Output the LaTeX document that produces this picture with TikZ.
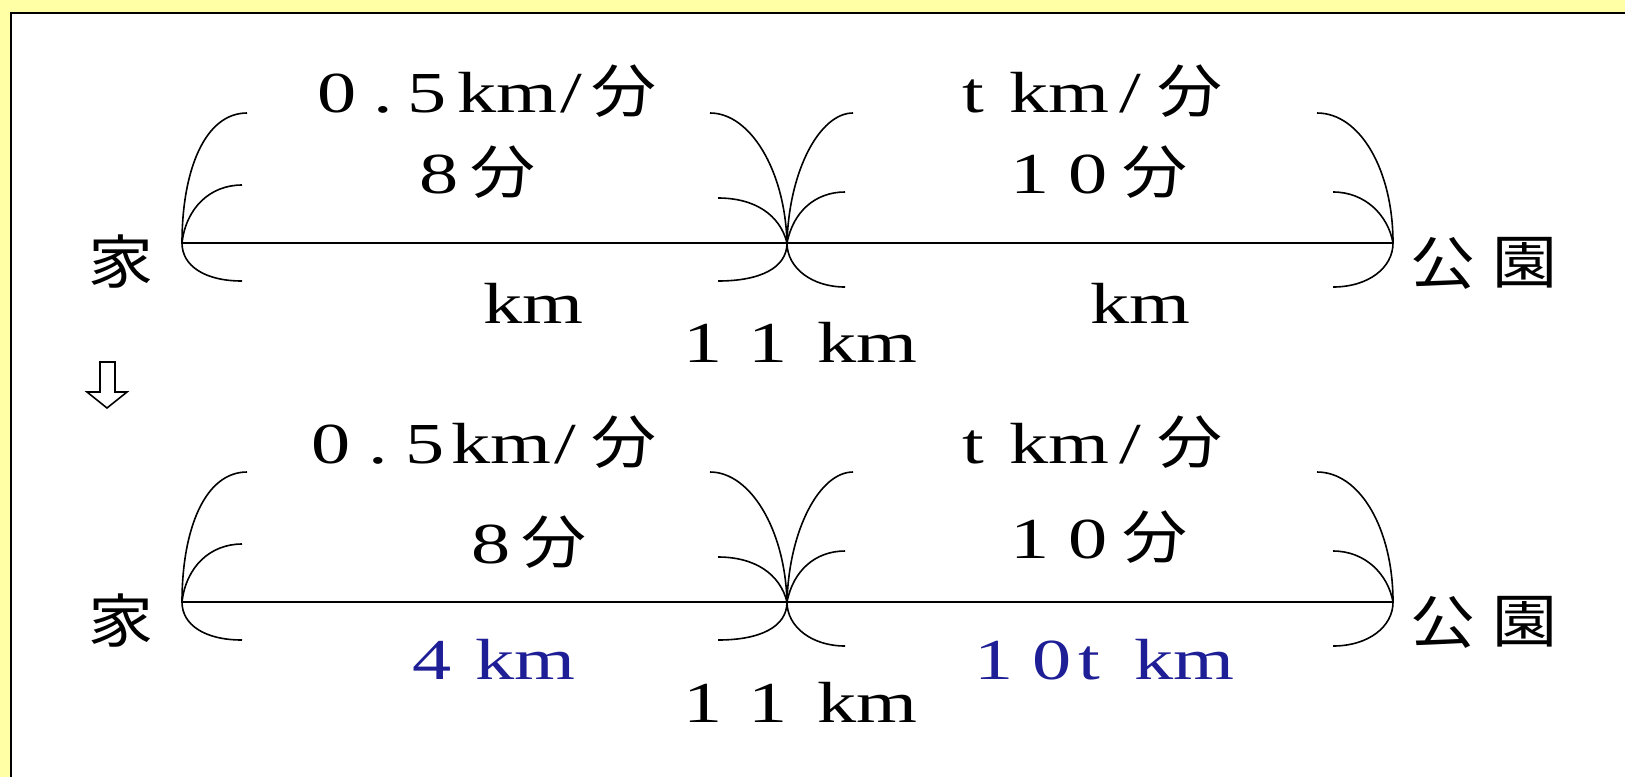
\documentclass[tikz,border=0pt]{standalone}
\usepackage{fontspec}
\usepackage{graphicx}
\setmainfont{Liberation Serif}
\newfontfamily\jpfont{Noto Sans CJK JP}
\newdimen\px \px=0.5pt
\newcommand\Lt[1]{\scalebox{1.35}[1]{#1}}
\newcommand\Kj[1]{\scalebox{1.12}[1]{\jpfont #1}}
\newcommand\at[2]{\rlap{\hspace*{#1\px}\makebox[0pt][c]{#2}}}
\newcommand\lblbox[2]{\makebox[#1\px][l]{#2}}
\definecolor{bgyellow}{RGB}{255,255,165}
\definecolor{ansblue}{RGB}{30,30,150}
\begin{document}
\begin{tikzpicture}[x=0.5pt,y=-0.5pt,
  lbl/.style={inner sep=0pt, anchor=base west, font=\fontsize{29}{34}\selectfont},
  kj/.style={inner sep=0pt, anchor=center, font=\fontsize{29}{34}\selectfont},
  arcline/.style={line width=0.8pt},
  mainline/.style={line width=1.1pt}]
\useasboundingbox (0,0) rectangle (1625,777);
% frame
\fill[bgyellow] (0,0) rectangle (1625,777);
\fill[white] (11,13) rectangle (1625,777);
\draw[line width=1.2pt] (11,777) -- (11,13) -- (1625,13);

% brackets and lines for both diagrams
\foreach \s/\n in {0/a,-179.5/b}{
\begin{scope}[yshift=\s pt]
  \coordinate (L\n) at (182,243);
  \coordinate (M\n) at (787,243);
  \coordinate (R\n) at (1393,243);
  \draw[mainline] (L\n) -- (R\n);
  \draw[arcline] (L\n) .. controls (182,170) and (205,113) .. (247,113);
  \draw[arcline] (L\n) .. controls (186,208) and (210,185) .. (242,185);
  \draw[arcline] (L\n) .. controls (182,266) and (205,281) .. (242,281);
  \draw[arcline] (M\n) .. controls (785,170) and (750,113) .. (710,113);
  \draw[arcline] (M\n) .. controls (789,170) and (820,113) .. (853,113);
  \draw[arcline] (M\n) .. controls (780,215) and (755,198) .. (718,198);
  \draw[arcline] (M\n) .. controls (793,212) and (815,192) .. (845,192);
  \draw[arcline] (M\n) .. controls (787,268) and (760,281) .. (718,281);
  \draw[arcline] (M\n) .. controls (787,268) and (812,287) .. (845,287);
  \draw[arcline] (R\n) .. controls (1393,170) and (1360,113) .. (1317,113);
  \draw[arcline] (R\n) .. controls (1388,215) and (1365,192) .. (1333,192);
  \draw[arcline] (R\n) .. controls (1393,268) and (1368,287) .. (1333,287);
\end{scope}
}

% down arrow
\draw[line width=0.8pt] (100,362) -- (115,362) -- (115,392) -- (127,392) -- (107,408) -- (87,392) -- (100,392) -- cycle;

% ---------- top diagram labels ----------
\node[kj] (ie1) at (121,262) {\Kj{家}};
\node[kj] (ko1) at (1443,263) {\Kj{公}};
\node[kj] (en1) at (1525,263) {\Kj{園}};
\node[lbl] (sp1) at (316,112) {\lblbox{340}{\at{21}{\Lt{0}}\at{67}{\Lt{.}}\at{111}{\Lt{5}}\at{191}{\Lt{km}}\at{255}{\Lt{/}}\at{308}{\Kj{分}}}};
\node[lbl] (tm1) at (423,193) {\lblbox{110}{\at{16}{\Lt{8}}\at{80}{\Kj{分}}}};
\node[lbl] (dl1) at (483,323) {\lblbox{100}{\at{50}{\Lt{km}}}};
\node[lbl] (sr1) at (962,112) {\lblbox{262}{\at{11}{\Lt{t}}\at{97}{\Lt{km}}\at{168}{\Lt{/}}\at{228}{\Kj{分}}}};
\node[lbl] (tr1) at (1018,193) {\lblbox{170}{\at{12}{\Lt{1}}\at{70}{\Lt{0}}\at{137}{\Kj{分}}}};
\node[lbl] (dr1) at (1090,323) {\lblbox{100}{\at{50}{\Lt{km}}}};
\node[lbl] (tot1) at (690,362) {\lblbox{228}{\at{13}{\Lt{1}}\at{78}{\Lt{1}}\at{177}{\Lt{km}}}};

% ---------- bottom diagram labels ----------
\node[kj] (ie2) at (121,621) {\Kj{家}};
\node[kj] (ko2) at (1443,622) {\Kj{公}};
\node[kj] (en2) at (1525,622) {\Kj{園}};
\node[lbl] (sp2) at (310,463) {\lblbox{345}{\at{21}{\Lt{0}}\at{68}{\Lt{.}}\at{115}{\Lt{5}}\at{191}{\Lt{km}}\at{255}{\Lt{/}}\at{314}{\Kj{分}}}};
\node[lbl] (tm2) at (475,563) {\lblbox{110}{\at{16}{\Lt{8}}\at{79}{\Kj{分}}}};
\node[lbl,text=ansblue] (dl2) at (420,679) {\lblbox{150}{\at{12}{\Lt{4}}\at{105}{\Lt{km}}}};
\node[lbl] (sr2) at (962,463) {\lblbox{262}{\at{11}{\Lt{t}}\at{97}{\Lt{km}}\at{168}{\Lt{/}}\at{228}{\Kj{分}}}};
\node[lbl] (tr2) at (1018,558) {\lblbox{170}{\at{12}{\Lt{1}}\at{70}{\Lt{0}}\at{137}{\Kj{分}}}};
\node[lbl,text=ansblue] (dr2) at (982,679) {\lblbox{252}{\at{12}{\Lt{1}}\at{70}{\Lt{0}}\at{107}{\Lt{t}}\at{202}{\Lt{km}}}};
\node[lbl] (tot2) at (690,722) {\lblbox{228}{\at{13}{\Lt{1}}\at{78}{\Lt{1}}\at{177}{\Lt{km}}}};
\end{tikzpicture}
\end{document}
